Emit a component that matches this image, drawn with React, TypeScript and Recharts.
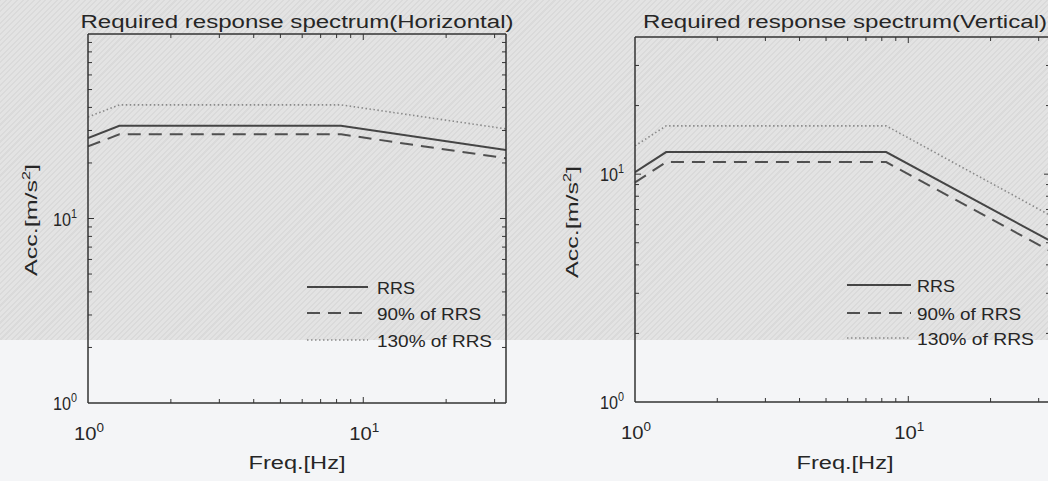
import React from 'react';
import { LineChart, Line, XAxis, YAxis } from 'recharts';

// ---- data ----
const freqH = [1, 1.3, 8.3, 33];
const rrsH = [27.3, 31.8, 31.8, 23.5];
const rrs90H = [24.6, 28.6, 28.6, 21.2];
const rrs130H = [35.5, 41.3, 41.3, 30.6];

const freqV = [1, 1.3, 8.3, 33];
const rrsV = [10.2, 12.5, 12.5, 5.1];
const rrs90V = [9.2, 11.3, 11.3, 4.6];
const rrs130V = [13.3, 16.3, 16.3, 6.6];

const xTicks = [1, 2, 3, 4, 5, 6, 7, 8, 9, 10, 20, 30];
const yTicksH = [1, 2, 3, 4, 5, 6, 7, 8, 9, 10, 20, 30, 40, 50, 60, 70, 80, 90, 100];
const yTicksV = [1, 2, 3, 4, 5, 6, 7, 8, 9, 10, 20, 30, 40];
const xLabeled = [1, 10];
const yLabeled = [1, 10];
const xDomain: [number, number] = [1, 33];
const yDomainH: [number, number] = [1, 100];
const yDomainV: [number, number] = [1, 40];

const seriesNames = ['RRS', '90% of RRS', '130% of RRS'];
const titles = ['Required response spectrum(Horizontal)', 'Required response spectrum(Vertical)'];
const xLabel = 'Freq.[Hz]';
const yLabel = 'Acc.[m/s';

// ---- styles ----
const FONT = '"Liberation Sans", Arial, Helvetica, sans-serif';
const TXT = '#262626';
const AX = '#333333';
const STYLES = [
  { stroke: '#454545', width: 2, dash: undefined as string | undefined },
  { stroke: '#505050', width: 2, dash: '13 8' },
  { stroke: '#8a8a8a', width: 1.6, dash: '1.5 2.5' },
];
const KEYS = ['rrs', 'r90', 'r130'];

const isDecade = (v: number) => Math.abs(Math.log10(v) - Math.round(Math.log10(v))) < 1e-9;

function Pow({ x, y, v, anchor, width }: { x: number; y: number; v: number; anchor: 'middle' | 'end'; width: number }) {
  return (
    <text x={x} y={y} textAnchor={anchor} fontFamily={FONT} fontSize={18} fill={TXT} textLength={width} lengthAdjust="spacingAndGlyphs">
      10<tspan dy={-8} fontSize={12}>{Math.round(Math.log10(v))}</tspan>
    </text>
  );
}

function makeTick(side: 'bottom' | 'top' | 'left' | 'right', lo: number, hi: number, labeled: number[]) {
  return (props: any) => {
    const { x, y, payload } = props;
    const v = payload.value as number;
    const major = isDecade(v);
    const len = major ? 6 : 4;
    const edge = Math.abs(v - lo) < 1e-9 || Math.abs(v - hi) < 1e-9;
    const hasLabel = labeled.some((l) => Math.abs(l - v) < 1e-9);
    let line = null;
    if (!edge) {
      if (side === 'bottom') line = <line x1={x} y1={y} x2={x} y2={y - len} stroke={AX} strokeWidth={1} />;
      if (side === 'top') line = <line x1={x} y1={y} x2={x} y2={y + len} stroke={AX} strokeWidth={1} />;
      if (side === 'left') line = <line x1={x} y1={y} x2={x + len} y2={y} stroke={AX} strokeWidth={1} />;
      if (side === 'right') line = <line x1={x} y1={y} x2={x - len} y2={y} stroke={AX} strokeWidth={1} />;
    }
    let label = null;
    if (hasLabel && side === 'bottom') label = <Pow x={x + 1} y={y + 37} v={v} anchor="middle" width={30} />;
    if (hasLabel && side === 'left') label = <Pow x={x - 11} y={y + 7} v={v} anchor="end" width={24} />;
    return (
      <g>
        {line}
        {label}
      </g>
    );
  };
}

type PanelProps = {
  left: number;
  width: number;
  margin: { top: number; right: number; bottom: number; left: number };
  freq: number[];
  s0: number[];
  s1: number[];
  s2: number[];
  yTicks: number[];
  yDomain: [number, number];
};

function Panel({ left, width, margin, freq, s0, s1, s2, yTicks, yDomain }: PanelProps) {
  const data = freq.map((f, i) => ({ f, rrs: s0[i], r90: s1[i], r130: s2[i] }));
  const axisLine = { stroke: AX, strokeWidth: 1.5 };
  return (
    <div style={{ position: 'absolute', left, top: 0 }}>
      <LineChart width={width} height={481} data={data} margin={margin}>
        <XAxis
          xAxisId="b"
          dataKey="f"
          type="number"
          scale="log"
          domain={xDomain}
          allowDataOverflow
          ticks={xTicks}
          interval={0}
          height={1}
          tickSize={0}
          tickMargin={0}
          tickLine={false}
          axisLine={axisLine}
          tick={makeTick('bottom', xDomain[0], xDomain[1], xLabeled)}
        />
        <XAxis
          xAxisId="t"
          orientation="top"
          dataKey="f"
          type="number"
          scale="log"
          domain={xDomain}
          allowDataOverflow
          ticks={xTicks}
          interval={0}
          height={1}
          tickSize={0}
          tickMargin={0}
          tickLine={false}
          axisLine={axisLine}
          tick={makeTick('top', xDomain[0], xDomain[1], [])}
        />
        <YAxis
          yAxisId="l"
          type="number"
          scale="log"
          domain={yDomain}
          allowDataOverflow
          ticks={yTicks}
          interval={0}
          width={1}
          tickSize={0}
          tickMargin={0}
          tickLine={false}
          axisLine={axisLine}
          tick={makeTick('left', yDomain[0], yDomain[1], yLabeled)}
        />
        <YAxis
          yAxisId="r"
          orientation="right"
          type="number"
          scale="log"
          domain={yDomain}
          allowDataOverflow
          ticks={yTicks}
          interval={0}
          width={1}
          tickSize={0}
          tickMargin={0}
          tickLine={false}
          axisLine={axisLine}
          tick={makeTick('right', yDomain[0], yDomain[1], [])}
        />
        {KEYS.map((k, i) => (
          <Line
            key={k}
            xAxisId="b"
            yAxisId="l"
            dataKey={k}
            name={seriesNames[i]}
            type="linear"
            stroke={STYLES[i].stroke}
            strokeWidth={STYLES[i].width}
            strokeDasharray={STYLES[i].dash}
            dot={false}
            activeDot={false}
            isAnimationActive={false}
          />
        ))}
      </LineChart>
    </div>
  );
}

function LegendBox({ x1, x2, tx, rows, widths }: { x1: number; x2: number; tx: number; rows: number[]; widths: number[] }) {
  return (
    <g>
      {seriesNames.map((n, i) => (
        <g key={n}>
          <line x1={x1} x2={x2} y1={rows[i]} y2={rows[i]} stroke={STYLES[i].stroke} strokeWidth={STYLES[i].width} strokeDasharray={STYLES[i].dash} />
          <text x={tx} y={rows[i] + 7} fontFamily={FONT} fontSize={17} fill={TXT} textLength={widths[i]} lengthAdjust="spacingAndGlyphs">
            {n}
          </text>
        </g>
      ))}
    </g>
  );
}

function AxisTitles({ cx, title, titleW, ylx, yly }: { cx: number; title: string; titleW: number; ylx: number; yly: number }) {
  return (
    <g fontFamily={FONT} fill={TXT}>
      <text x={cx} y={28} textAnchor="middle" fontSize={18} textLength={titleW} lengthAdjust="spacingAndGlyphs">
        {title}
      </text>
      <text x={cx} y={469} textAnchor="middle" fontSize={18} textLength={97} lengthAdjust="spacingAndGlyphs">
        {xLabel}
      </text>
      <text
        x={ylx}
        y={yly}
        textAnchor="middle"
        fontSize={17}
        textLength={112}
        lengthAdjust="spacingAndGlyphs"
        transform={`rotate(-90 ${ylx} ${yly})`}
      >
        {yLabel}
        <tspan dy={-7} fontSize={11}>2</tspan>
        <tspan dy={7}>]</tspan>
      </text>
    </g>
  );
}

export default function App() {
  return (
    <div
      style={{
        position: 'absolute',
        left: 0,
        top: 0,
        width: 1048,
        height: 481,
        overflow: 'hidden',
        background:
          'linear-gradient(to bottom, rgba(0,0,0,0) 0px, rgba(0,0,0,0) 340px, #f4f5f7 340px, #f4f5f7 481px), repeating-linear-gradient(-45deg, #dadada 0px, #dadada 1.5px, #e3e3e3 1.5px, #e3e3e3 4px)',
      }}
    >
      <Panel
        left={0}
        width={524}
        margin={{ top: 33, right: 17, bottom: 77, left: 87 }}
        freq={freqH}
        s0={rrsH}
        s1={rrs90H}
        s2={rrs130H}
        yTicks={yTicksH}
        yDomain={yDomainH}
      />
      <Panel
        left={524}
        width={560}
        margin={{ top: 36, right: 33, bottom: 78, left: 110 }}
        freq={freqV}
        s0={rrsV}
        s1={rrs90V}
        s2={rrs130V}
        yTicks={yTicksV}
        yDomain={yDomainV}
      />
      <svg width={1048} height={481} style={{ position: 'absolute', left: 0, top: 0, pointerEvents: 'none' }}>
        <AxisTitles cx={297} title={titles[0]} titleW={433} ylx={37} yly={220} />
        <AxisTitles cx={845} title={titles[1]} titleW={404} ylx={578} yly={222} />
        <LegendBox x1={307} x2={368} tx={377} rows={[287, 313, 340]} widths={[38, 104, 115]} />
        <LegendBox x1={847} x2={911} tx={917} rows={[285, 313, 338]} widths={[38, 104, 117]} />
      </svg>
    </div>
  );
}
